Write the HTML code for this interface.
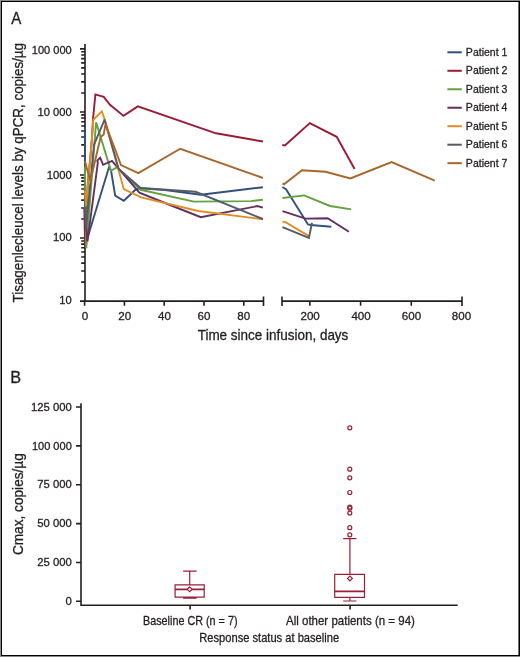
<!DOCTYPE html>
<html><head><meta charset="utf-8"><style>
html,body{margin:0;padding:0;background:#fff;}
svg{display:block;font-family:"Liberation Sans", sans-serif;will-change:transform;}
</style></head><body>
<svg width="520" height="657" viewBox="0 0 520 657">
<rect x="0" y="0" width="520" height="657" fill="#8a8a8a"/>
<rect x="1" y="1" width="519" height="655" fill="#000"/>
<rect x="518" y="2" width="1" height="653" fill="#707070"/>
<rect x="2" y="2" width="516" height="653" fill="#fff"/>
<path d="M85.0 44 V301.1 M80 301.10 H85.0 M81.2 282.12 H85.0 M81.2 271.02 H85.0 M81.2 263.14 H85.0 M81.2 257.03 H85.0 M81.2 252.04 H85.0 M81.2 247.82 H85.0 M81.2 244.16 H85.0 M81.2 240.94 H85.0 M80 238.05 H85.0 M81.2 219.07 H85.0 M81.2 207.97 H85.0 M81.2 200.09 H85.0 M81.2 193.98 H85.0 M81.2 188.99 H85.0 M81.2 184.77 H85.0 M81.2 181.11 H85.0 M81.2 177.89 H85.0 M80 175.00 H85.0 M81.2 156.02 H85.0 M81.2 144.92 H85.0 M81.2 137.04 H85.0 M81.2 130.93 H85.0 M81.2 125.94 H85.0 M81.2 121.72 H85.0 M81.2 118.06 H85.0 M81.2 114.84 H85.0 M80 111.95 H85.0 M81.2 92.97 H85.0 M81.2 81.87 H85.0 M81.2 73.99 H85.0 M81.2 67.88 H85.0 M81.2 62.89 H85.0 M81.2 58.67 H85.0 M81.2 55.01 H85.0 M81.2 51.79 H85.0 M80 48.90 H85.0 M84.2 301.1 H263.5 M263.5 296.4 V305.9 M84.60 301.1 V305.7 M124.40 301.1 V305.7 M164.20 301.1 V305.7 M204.00 301.1 V305.7 M243.80 301.1 V305.7 M282 301.1 H462 M282 296.4 V305.9 M462 296.4 V305.9 M309.88 301.1 V305.7 M360.59 301.1 V305.7 M411.28 301.1 V305.7" stroke="#231f20" stroke-width="1.6" fill="none"/>
<path d="M447.4 52.30 H461.8" stroke="#32507c" stroke-width="2"/>
<path d="M447.4 70.78 H461.8" stroke="#9b1b35" stroke-width="2"/>
<path d="M447.4 89.26 H461.8" stroke="#62a241" stroke-width="2"/>
<path d="M447.4 107.74 H461.8" stroke="#61305f" stroke-width="2"/>
<path d="M447.4 126.22 H461.8" stroke="#e08d22" stroke-width="2"/>
<path d="M447.4 144.70 H461.8" stroke="#565b68" stroke-width="2"/>
<path d="M447.4 163.18 H461.8" stroke="#a8672a" stroke-width="2"/>
<polyline points="84.9,127 84.9,246.5 109.3,166.2 111.2,171.5 115.2,195.6 123.8,200.7 136,189.2 140.6,188.3 165,190 200.8,194.7 262.9,187.2" fill="none" stroke="#32507c" stroke-width="1.9" stroke-linejoin="miter" stroke-miterlimit="3"/>
<polyline points="282.4,187 286,189.2 308,224.4 310.9,225 331.3,226.7" fill="none" stroke="#32507c" stroke-width="1.9" stroke-linejoin="miter" stroke-miterlimit="3"/>
<polyline points="84.3,208 85.2,246 87.9,182.4 90.3,158 92.1,136.3 93,119 95.4,94.4 103.7,96.9 110,104.8 123.5,115.9 137.8,106.4 216,133.3 262.9,141.5" fill="none" stroke="#9b1b35" stroke-width="1.9" stroke-linejoin="miter" stroke-miterlimit="3"/>
<polyline points="282.3,145 284.9,145.5 309.8,123.1 336.7,136.8 354.6,169" fill="none" stroke="#9b1b35" stroke-width="1.9" stroke-linejoin="miter" stroke-miterlimit="3"/>
<polyline points="84.9,166.6 86.3,248.3 96.1,122.3 110,167.7 110.8,170.8 116.8,167.4 140.6,189.8 193.8,201.6 250.9,201.1 262.9,199.8" fill="none" stroke="#62a241" stroke-width="1.9" stroke-linejoin="miter" stroke-miterlimit="3"/>
<polyline points="282.5,198 304.2,195.4 330,206 351.3,209.4" fill="none" stroke="#62a241" stroke-width="1.9" stroke-linejoin="miter" stroke-miterlimit="3"/>
<polyline points="84.9,212 87.5,241.4 97.8,162.8 97.3,160.5 100.2,157.7 103.1,164.8 112,160.8 115.8,165.4 139.4,192.7 170,205 200.8,217.2 257.3,206.1 262.9,207.7" fill="none" stroke="#61305f" stroke-width="1.9" stroke-linejoin="miter" stroke-miterlimit="3"/>
<polyline points="282.5,211.2 305.5,218.6 327.6,218.2 348.9,231.8" fill="none" stroke="#61305f" stroke-width="1.9" stroke-linejoin="miter" stroke-miterlimit="3"/>
<polyline points="85,191 86.3,206 87.9,182.4 90.3,158 92.1,136.3 93.3,119.8 101.9,111.4 104.4,118.8 123.8,189.2 141.1,197.3 198.3,211 262.9,219.3" fill="none" stroke="#e08d22" stroke-width="1.9" stroke-linejoin="miter" stroke-miterlimit="3"/>
<polyline points="282.5,221.8 285.5,222.1 308.6,235.9" fill="none" stroke="#e08d22" stroke-width="1.9" stroke-linejoin="miter" stroke-miterlimit="3"/>
<polyline points="84.8,207 86.2,229 89.2,195 94,144.8 104.6,119.6 118.7,169 140.6,188 195.6,191.8 262.9,219" fill="none" stroke="#565b68" stroke-width="1.9" stroke-linejoin="miter" stroke-miterlimit="3"/>
<polyline points="282.5,227.1 308.9,237.9 312,222.7" fill="none" stroke="#565b68" stroke-width="1.9" stroke-linejoin="miter" stroke-miterlimit="3"/>
<polyline points="84.9,161 90.3,181.2 100.7,136.9 103.7,134.4 105.5,124.1 121,165 138.3,173.1 180.2,148.8 262.9,178" fill="none" stroke="#a8672a" stroke-width="1.9" stroke-linejoin="miter" stroke-miterlimit="3"/>
<polyline points="282.5,183.4 284,184.3 302,170.3 325.6,171.8 350.3,178.5 391.6,162.1 434.8,180.6" fill="none" stroke="#a8672a" stroke-width="1.9" stroke-linejoin="miter" stroke-miterlimit="3"/>
<path d="M81 403.3 V605.2 H457.7 M76 601.30 H81 M76 562.44 H81 M76 523.58 H81 M76 484.72 H81 M76 445.86 H81 M76 407.00 H81 M190.1 605 V609.5 M350.1 605 V609.5" stroke="#231f20" stroke-width="1.6" fill="none"/>
<path d="M183.1 571.2 H196.6 M189.7 571.2 V584.9 M175.1 584.9 H204.2 V597.2 H175.1 Z M183.1 598.2 H196.6 M343.2 538.6 H356.4 M349.9 538.6 V574.3 M334.7 574.3 H364.5 V597.3 H334.7 Z M349.9 597.3 V601 M343.2 601 H356.4" stroke="#9a1f39" stroke-width="1.2" fill="none"/>
<path d="M175.1 589.3 H204.2 M334.7 591.3 H364.5" stroke="#9a1f39" stroke-width="1.7" fill="none"/>
<path d="M189.7 586.9 L192.1 589.3 L189.7 591.6999999999999 L187.29999999999998 589.3 Z" stroke="#9a1f39" stroke-width="1.2" fill="#fff"/>
<path d="M349.9 576.0 L352.29999999999995 578.4 L349.9 580.8 L347.5 578.4 Z" stroke="#9a1f39" stroke-width="1.2" fill="#fff"/>
<circle cx="349.8" cy="427.8" r="2" stroke="#9a1f39" stroke-width="1.2" fill="none"/>
<circle cx="349.8" cy="469.2" r="2" stroke="#9a1f39" stroke-width="1.2" fill="none"/>
<circle cx="349.8" cy="477.8" r="2" stroke="#9a1f39" stroke-width="1.2" fill="none"/>
<circle cx="349.8" cy="492.5" r="2" stroke="#9a1f39" stroke-width="1.2" fill="none"/>
<circle cx="349.8" cy="507.2" r="2" stroke="#9a1f39" stroke-width="1.2" fill="none"/>
<circle cx="349.8" cy="508.2" r="2" stroke="#9a1f39" stroke-width="1.2" fill="none"/>
<circle cx="349.8" cy="513.1" r="2" stroke="#9a1f39" stroke-width="1.2" fill="none"/>
<circle cx="349.8" cy="527.7" r="2" stroke="#9a1f39" stroke-width="1.2" fill="none"/>
<circle cx="349.8" cy="534.8" r="2" stroke="#9a1f39" stroke-width="1.2" fill="none"/>
<text transform="translate(31.79,53.6) scale(0.9521,1)" font-size="11.6" fill="#231f20" stroke="#231f20" stroke-width="0.3">100 000</text>
<text transform="translate(37.58,115.7) scale(0.9635,1)" font-size="11.6" fill="#231f20" stroke="#231f20" stroke-width="0.3">10 000</text>
<text transform="translate(46.77,179.1) scale(0.9714,1)" font-size="11.6" fill="#231f20" stroke="#231f20" stroke-width="0.3">1000</text>
<text transform="translate(52.98,241.1) scale(0.9644,1)" font-size="11.6" fill="#231f20" stroke="#231f20" stroke-width="0.3">100</text>
<text transform="translate(59.28,304.1) scale(0.9617,1)" font-size="11.6" fill="#231f20" stroke="#231f20" stroke-width="0.3">10</text>
<text transform="translate(81.85,320.4) scale(1.0000,1)" font-size="11.6" fill="#231f20" stroke="#231f20" stroke-width="0.3">0</text>
<text transform="translate(118.20,320.4) scale(1.0000,1)" font-size="11.6" fill="#231f20" stroke="#231f20" stroke-width="0.3">20</text>
<text transform="translate(158.03,320.4) scale(1.0000,1)" font-size="11.6" fill="#231f20" stroke="#231f20" stroke-width="0.3">40</text>
<text transform="translate(197.50,320.4) scale(1.0000,1)" font-size="11.6" fill="#231f20" stroke="#231f20" stroke-width="0.3">60</text>
<text transform="translate(237.30,320.4) scale(1.0000,1)" font-size="11.6" fill="#231f20" stroke="#231f20" stroke-width="0.3">80</text>
<text transform="translate(300.45,320.4) scale(1.0000,1)" font-size="11.6" fill="#231f20" stroke="#231f20" stroke-width="0.3">200</text>
<text transform="translate(351.38,320.4) scale(1.0000,1)" font-size="11.6" fill="#231f20" stroke="#231f20" stroke-width="0.3">400</text>
<text transform="translate(401.85,320.4) scale(1.0000,1)" font-size="11.6" fill="#231f20" stroke="#231f20" stroke-width="0.3">600</text>
<text transform="translate(451.85,320.4) scale(1.0000,1)" font-size="11.6" fill="#231f20" stroke="#231f20" stroke-width="0.3">800</text>
<text transform="translate(197.66,340.3) scale(0.9494,1)" font-size="14.2" fill="#231f20" stroke="#231f20" stroke-width="0.3">Time since infusion, days</text>
<text transform="translate(23.0,302.43) rotate(-90) scale(0.9175,1)" font-size="14.6" fill="#231f20" stroke="#231f20" stroke-width="0.3">Tisagenlecleucel levels by qPCR, copies/µg</text>
<text transform="translate(465.86,55.5) scale(0.9404,1)" font-size="11.2" fill="#231f20" stroke="#231f20" stroke-width="0.3">Patient 1</text>
<text transform="translate(465.86,74.0) scale(0.9404,1)" font-size="11.2" fill="#231f20" stroke="#231f20" stroke-width="0.3">Patient 2</text>
<text transform="translate(465.86,92.5) scale(0.9404,1)" font-size="11.2" fill="#231f20" stroke="#231f20" stroke-width="0.3">Patient 3</text>
<text transform="translate(465.86,111.0) scale(0.9404,1)" font-size="11.2" fill="#231f20" stroke="#231f20" stroke-width="0.3">Patient 4</text>
<text transform="translate(465.86,129.5) scale(0.9404,1)" font-size="11.2" fill="#231f20" stroke="#231f20" stroke-width="0.3">Patient 5</text>
<text transform="translate(465.86,148.0) scale(0.9404,1)" font-size="11.2" fill="#231f20" stroke="#231f20" stroke-width="0.3">Patient 6</text>
<text transform="translate(465.86,166.5) scale(0.9404,1)" font-size="11.2" fill="#231f20" stroke="#231f20" stroke-width="0.3">Patient 7</text>
<text transform="translate(30.97,410.95000000000005) scale(0.9742,1)" font-size="11.6" fill="#231f20" stroke="#231f20" stroke-width="0.3">125 000</text>
<text transform="translate(31.89,449.65000000000003) scale(0.9521,1)" font-size="11.6" fill="#231f20" stroke="#231f20" stroke-width="0.3">100 000</text>
<text transform="translate(37.31,488.45000000000005) scale(0.9739,1)" font-size="11.6" fill="#231f20" stroke="#231f20" stroke-width="0.3">75 000</text>
<text transform="translate(37.31,527.15) scale(0.9739,1)" font-size="11.6" fill="#231f20" stroke="#231f20" stroke-width="0.3">50 000</text>
<text transform="translate(37.21,565.85) scale(0.9768,1)" font-size="11.6" fill="#231f20" stroke="#231f20" stroke-width="0.3">25 000</text>
<text transform="translate(65.51,604.6) scale(0.9818,1)" font-size="11.6" fill="#231f20" stroke="#231f20" stroke-width="0.3">0</text>
<text transform="translate(23.1,555.10) rotate(-90) scale(0.9352,1)" font-size="14.6" fill="#231f20" stroke="#231f20" stroke-width="0.3">Cmax, copies/µg</text>
<text transform="translate(143.02,624.8) scale(0.8783,1)" font-size="12.3" fill="#231f20" stroke="#231f20" stroke-width="0.3">Baseline CR (n = 7)</text>
<text transform="translate(286.00,624.6) scale(0.9358,1)" font-size="12.3" fill="#231f20" stroke="#231f20" stroke-width="0.3">All other patients (n = 94)</text>
<text transform="translate(199.29,642.4) scale(0.9059,1)" font-size="12.3" fill="#231f20" stroke="#231f20" stroke-width="0.3">Response status at baseline</text>
<text transform="translate(11.25,23.55) scale(0.8978,1)" font-size="16.8" fill="#231f20" stroke="#231f20" stroke-width="0.3">A</text>
<text transform="translate(10.29,382.55) scale(0.9667,1)" font-size="16.8" fill="#231f20" stroke="#231f20" stroke-width="0.3">B</text>
</svg>
</body></html>
